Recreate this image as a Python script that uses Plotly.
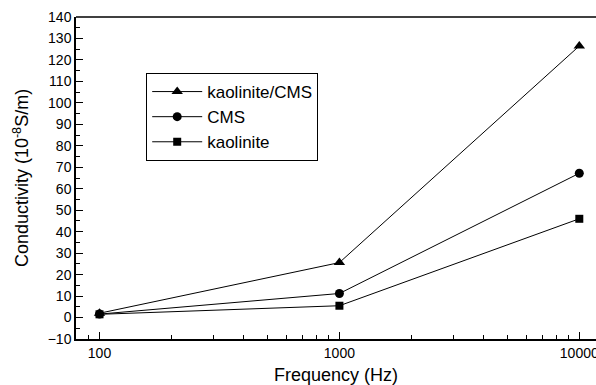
import plotly.graph_objects as go

frequency = [100, 1000, 10000]
kaolinite_cms = [2.0, 25.6, 126.5]
cms = [1.6, 11.2, 67.2]
kaolinite = [1.5, 5.5, 46.0]

x_tickvals = [100, 1000, 10000]
x_ticktext = ["100", "1000", "10000"]
x_minor = [90, 200, 300, 400, 500, 600, 700, 800, 900,
           2000, 3000, 4000, 5000, 6000, 7000, 8000, 9000]

FONT = "Liberation Sans, Arial, sans-serif"

fig = go.Figure()
series = [
    ("kaolinite/CMS", kaolinite_cms, "triangle-up", 10),
    ("CMS", cms, "circle", 9),
    ("kaolinite", kaolinite, "square", 8),
]
for name, vals, sym, size in series:
    fig.add_trace(go.Scatter(
        x=frequency, y=vals, name=name, mode="lines+markers",
        line=dict(color="black", width=1),
        marker=dict(symbol=sym, size=size, color="black"),
    ))

fig.update_layout(
    width=596, height=385,
    margin=dict(l=76, r=0, t=17, b=46),
    paper_bgcolor="white", plot_bgcolor="white",
    font=dict(family=FONT, color="black"),
    showlegend=True,
    legend=dict(
        x=0.135, y=0.826, xanchor="left", yanchor="top",
        bordercolor="black", borderwidth=1, bgcolor="white",
        font=dict(size=17, family=FONT),
        itemwidth=50,
        tracegroupgap=0,
    ),
    xaxis=dict(
        type="log", range=[1.902, 4.0696], automargin=False,
        tickvals=x_tickvals, ticktext=x_ticktext, ticklabeloverflow="allow",
        ticks="inside", ticklen=7, tickwidth=1.2, tickcolor="black",
        minor=dict(tickvals=x_minor, ticks="inside", ticklen=4, tickwidth=1, tickcolor="black"),
        showline=True, linecolor="black", linewidth=1.5,
        showgrid=False, zeroline=False,
        tickfont=dict(size=14, family=FONT),
        title=dict(text="Frequency (Hz)", font=dict(size=18, family=FONT), standoff=10),
    ),
    yaxis=dict(
        range=[-10, 140], dtick=10, tick0=0, automargin=False,
        ticks="inside", ticklen=7, tickwidth=1.2, tickcolor="black",
        minor=dict(dtick=5, ticks="inside", ticklen=4, tickwidth=1, tickcolor="black"),
        showline=True, linecolor="black", linewidth=1.5,
        showgrid=False, zeroline=False,
        tickfont=dict(size=14, family=FONT),
        title=dict(text="Conductivity (10<sup>-8</sup>S/m)", font=dict(size=18, family=FONT), standoff=14),
    ),
    shapes=[dict(type="line", xref="paper", yref="paper", x0=0, x1=1, y0=1, y1=1,
                 line=dict(color="black", width=1.5))],
)

fig.write_html("out.html", config={"displayModeBar": False},
               post_script="document.body.style.margin='0';document.body.style.overflow='hidden';")
